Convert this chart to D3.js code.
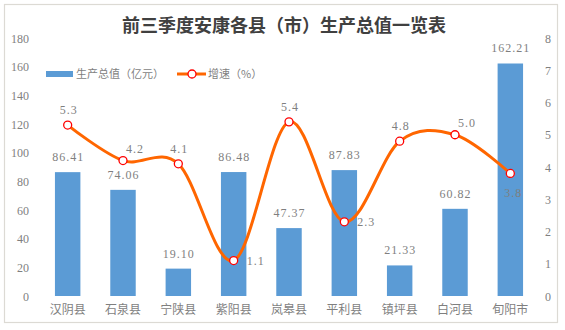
<!DOCTYPE html>
<html><head><meta charset="utf-8">
<script src="https://cdn.jsdelivr.net/npm/d3@7/dist/d3.min.js"></script>
<style>
html,body{margin:0;padding:0;background:#fff;}
svg{display:block;}
</style></head>
<body>
<script>
const categories = ["汉阴县","石泉县","宁陕县","紫阳县","岚皋县","平利县","镇坪县","白河县","旬阳市"];
const gdpValues = [86.41, 74.06, 19.10, 86.48, 47.37, 87.83, 21.33, 60.82, 162.21];
const growthValues = [5.3, 4.2, 4.1, 1.1, 5.4, 2.3, 4.8, 5.0, 3.8];
const leftTicks = [0,20,40,60,80,100,120,140,160,180];
const rightTicks = [0,1,2,3,4,5,6,7,8];
const growthLabelPlacement = ["top","topRight","top","right","top","right","top","topRight","bottom"];
const titleText = "前三季度安康各县（市）生产总值一览表";
const legendGdp = "生产总值（亿元）";
const legendGrowth = "增速（%）";

const W = 565, H = 330;
const plot = {left: 40, right: 538, top: 38, bottom: 296};
const numFont = "'Liberation Serif','DejaVu Serif',serif";
const cjkFont = "'Noto Sans CJK SC','Noto Sans',sans-serif";
const textGray = "#7f7f7f";

const svg = d3.select("body").append("svg").attr("width", W).attr("height", H);

svg.append("rect").attr("x",4.5).attr("y",4.5).attr("width",553).attr("height",318)
  .attr("fill","#fff").attr("stroke","#dcdad4").attr("stroke-width",1.2);

const x = d3.scaleBand().domain(categories).range([plot.left, plot.right])
  .paddingInner(0.54).paddingOuter(0.27);
const yL = d3.scaleLinear().domain([0,180]).range([plot.bottom, plot.top]);
const yR = d3.scaleLinear().domain([0,8]).range([plot.bottom, plot.top]);
const cx = d => x(d) + x.bandwidth()/2;

// title
svg.append("text").attr("x", 284).attr("y", 32).attr("text-anchor","middle")
  .attr("font-family", cjkFont).attr("font-weight","bold").attr("font-size",18)
  .attr("fill","#404040").text(titleText);

// left axis
const axL = d3.axisLeft(yL).tickValues(leftTicks).tickSize(0).tickPadding(0).tickFormat(d3.format("d"));
const gL = svg.append("g").attr("transform",`translate(29,0)`).call(axL);
gL.select(".domain").remove();
gL.selectAll("text").attr("font-family", numFont).attr("font-size",12).attr("fill",textGray).attr("dy","0.35em");

// right axis
const axR = d3.axisRight(yR).tickValues(rightTicks).tickSize(0).tickPadding(0).tickFormat(d3.format("d"));
const gR = svg.append("g").attr("transform",`translate(545,0)`).call(axR);
gR.select(".domain").remove();
gR.selectAll("text").attr("font-family", numFont).attr("font-size",12).attr("fill",textGray).attr("dy","0.35em");

// bottom axis labels
const axB = d3.axisBottom(x).tickSize(0).tickPadding(0);
const gB = svg.append("g").attr("transform",`translate(0,${plot.bottom+9})`).call(axB);
gB.select(".domain").remove();
gB.selectAll("text").attr("font-family", cjkFont).attr("font-size",12).attr("fill",textGray).attr("dy","0.71em");

// bars
svg.append("g").selectAll("rect").data(categories).join("rect")
  .attr("x", d => x(d)).attr("width", x.bandwidth())
  .attr("y", (d,i) => yL(gdpValues[i])).attr("height", (d,i) => yL(0) - yL(gdpValues[i]))
  .attr("fill","#5b9bd5");

// bar labels
svg.append("g").selectAll("text").data(categories).join("text")
  .attr("x", d => cx(d)+0.5).attr("y", (d,i) => yL(gdpValues[i]) - 11)
  .attr("text-anchor","middle").attr("font-family", numFont).attr("font-size",12)
  .attr("letter-spacing","1px").attr("fill",textGray)
  .text((d,i) => gdpValues[i].toFixed(2));

// line
const pts = categories.map((c,i) => [cx(c), yR(growthValues[i])]);
svg.append("path").attr("d", d3.line().curve(d3.curveCardinal.tension(0))(pts))
  .attr("fill","none").attr("stroke","#ff6600").attr("stroke-width",3).attr("stroke-linecap","round");

svg.append("g").selectAll("circle").data(pts).join("circle")
  .attr("cx", d => d[0]).attr("cy", d => d[1]).attr("r", 4)
  .attr("fill","#fff").attr("stroke","#ff0000").attr("stroke-width",1.3);

const off = {top:[1,-11], topRight:[12,-8], right:[22,4], bottom:[3,24]};
svg.append("g").selectAll("text").data(pts).join("text")
  .attr("x", (d,i) => d[0] + off[growthLabelPlacement[i]][0])
  .attr("y", (d,i) => d[1] + off[growthLabelPlacement[i]][1])
  .attr("text-anchor","middle").attr("font-family", numFont).attr("font-size",12)
  .attr("letter-spacing","1px").attr("fill",textGray)
  .text((d,i) => growthValues[i].toFixed(1));

// legend
const lg = svg.append("g");
lg.append("rect").attr("x",46).attr("y",71).attr("width",27).attr("height",6).attr("fill","#5b9bd5");
lg.append("text").attr("x",76).attr("y",78).attr("font-family",cjkFont).attr("font-size",11)
  .attr("fill",textGray).text(legendGdp);
lg.append("line").attr("x1",177).attr("x2",206).attr("y1",74).attr("y2",74)
  .attr("stroke","#ff6600").attr("stroke-width",3);
lg.append("circle").attr("cx",192).attr("cy",74).attr("r",4).attr("fill","#fff")
  .attr("stroke","#ff0000").attr("stroke-width",1.3);
lg.append("text").attr("x",208).attr("y",78).attr("font-family",cjkFont).attr("font-size",11)
  .attr("fill",textGray).text(legendGrowth);
</script>
</body></html>
